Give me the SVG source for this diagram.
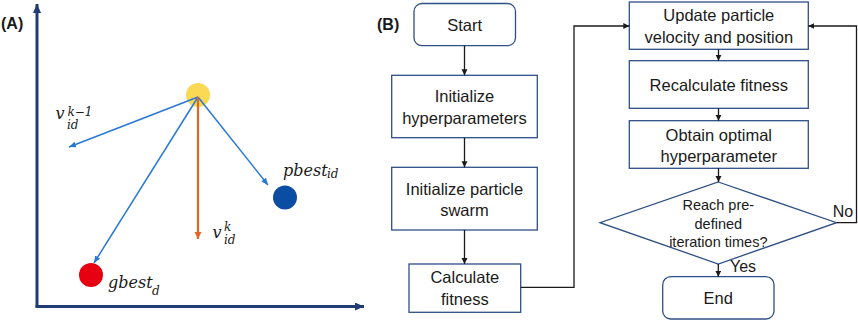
<svg xmlns="http://www.w3.org/2000/svg" width="858" height="322" viewBox="0 0 858 322">
<style>
.panel{font-family:"Liberation Sans",Arial,sans-serif;font-weight:bold;font-size:16px;fill:#1a1a1a}
.math{font-family:"DejaVu Serif",serif;font-style:italic;font-size:16px;fill:#1a1a1a}
.sm{font-size:12px}
.box{fill:#fff;stroke:#2f4f86;stroke-width:1.3}
.lbl{font-family:"Liberation Sans",Arial,sans-serif;font-size:16.5px;fill:#1a1a1a;text-anchor:middle}
.dlbl{font-family:"Liberation Sans",Arial,sans-serif;font-size:14.5px;fill:#1a1a1a;text-anchor:middle}
.conn{fill:none;stroke:#1a1a1a;stroke-width:1.3}
.axis{fill:none;stroke:#1f3c74;stroke-width:3}
.vb{fill:none;stroke:#2878d8;stroke-width:1.5}
.vo{fill:none;stroke:#ea6420;stroke-width:2.2}
</style>
<defs>
<marker id="ah" markerUnits="userSpaceOnUse" markerWidth="8" markerHeight="8" refX="6" refY="3" orient="auto"><path d="M0,0 L6,3 L0,6 z" fill="#1a1a1a"/></marker>
<marker id="ax" markerUnits="userSpaceOnUse" markerWidth="12" markerHeight="12" refX="9" refY="4" orient="auto"><path d="M0,0 L9,4 L0,8 z" fill="#1f3c74"/></marker>
<marker id="ab" markerUnits="userSpaceOnUse" markerWidth="10" markerHeight="10" refX="7" refY="3" orient="auto"><path d="M0,0 L7,3 L0,6 z" fill="#2878d8"/></marker>
<marker id="ao" markerUnits="userSpaceOnUse" markerWidth="10" markerHeight="10" refX="7" refY="3.5" orient="auto"><path d="M0,0 L7,3.5 L0,7 z" fill="#ea6420"/></marker>
</defs>
<rect width="858" height="322" fill="#fff"/>

<!-- Panel A -->
<g id="panelA">
<text class="panel" x="1" y="29">(A)</text>
<path class="axis" d="M37,306.5 V4" marker-end="url(#ax)"/>
<path class="axis" d="M35.5,306.5 H364" marker-end="url(#ax)"/>
</g>
<g id="particle"><circle cx="198" cy="95" r="12" fill="#fcd955"/></g>
<g id="pbest"><circle cx="285" cy="197.5" r="12" fill="#0a4da2"/>
<text class="math" x="283" y="176">pbest<tspan class="sm" x="327" y="178">id</tspan></text></g>
<g id="gbest"><circle cx="91" cy="275" r="12" fill="#e60012"/>
<text class="math" x="108" y="287.5">gbest<tspan class="sm" x="152" y="294.5">d</tspan></text></g>
<g id="vectors">
<path class="vb" d="M198,97 L69,147" marker-end="url(#ab)"/>
<path class="vb" d="M198,97 L94,263" marker-end="url(#ab)"/>
<path class="vb" d="M198,97 L268,185" marker-end="url(#ab)"/>
<path class="vo" d="M198,97 V239" marker-end="url(#ao)"/>
</g>
<g id="vkm1"><text class="math" x="55.5" y="119">v<tspan class="sm" x="67.5" y="116">k−1</tspan><tspan class="sm" x="67" y="128.5">id</tspan></text></g>
<g id="vk"><text class="math" x="212.5" y="238">v<tspan class="sm" x="224" y="230.5">k</tspan><tspan class="sm" x="224" y="243.5">id</tspan></text></g>

<!-- Panel B -->
<text class="panel" x="377" y="30">(B)</text>
<g id="start"><rect class="box" x="414" y="3.5" width="101.5" height="42.2" rx="8"/><text class="lbl" x="464.7" y="31">Start</text></g>
<g id="inithyper"><rect class="box" x="391.7" y="75.3" width="145.6" height="62.4"/><text class="lbl" x="464.5" y="102">Initialize</text><text class="lbl" x="464.5" y="123.5">hyperparameters</text></g>
<g id="initswarm"><rect class="box" x="391.7" y="167.3" width="145.6" height="62.7"/><text class="lbl" x="464.5" y="194.5">Initialize particle</text><text class="lbl" x="464.5" y="216">swarm</text></g>
<g id="calcfit"><rect class="box" x="409" y="264" width="111.7" height="48.3"/><text class="lbl" x="464.8" y="283">Calculate</text><text class="lbl" x="464.8" y="304.5">fitness</text></g>
<g id="update"><rect class="box" x="629.3" y="2" width="179" height="47.3"/><text class="lbl" x="718.8" y="21">Update particle</text><text class="lbl" x="718.8" y="42.5">velocity and position</text></g>
<g id="recalc"><rect class="box" x="629.3" y="60.7" width="179" height="47.6"/><text class="lbl" x="718.8" y="91">Recalculate fitness</text></g>
<g id="obtain"><rect class="box" x="629.3" y="120.7" width="179" height="47.6"/><text class="lbl" x="718.8" y="140.5">Obtain optimal</text><text class="lbl" x="718.8" y="162">hyperparameter</text></g>
<g id="decision"><path class="box" d="M718.3,182 L836.5,222.7 L718.3,264 L600,222.7 Z"/><text class="dlbl" x="718.3" y="210">Reach pre-</text><text class="dlbl" x="718.3" y="228.5">defined</text><text class="dlbl" x="718.3" y="246.5">iteration times?</text></g>
<g id="end"><rect class="box" x="662.7" y="276.7" width="111.3" height="42.3" rx="8"/><text class="lbl" x="718.3" y="303.5">End</text></g>

<g id="connectors">
<path class="conn" d="M464.5,45.7 V75.3" marker-end="url(#ah)"/>
<path class="conn" d="M464.5,137.7 V167.3" marker-end="url(#ah)"/>
<path class="conn" d="M464.5,230 V264" marker-end="url(#ah)"/>
<path class="conn" d="M520.7,287.3 H574 V26 H629.3" marker-end="url(#ah)"/>
<path class="conn" d="M718.5,49.3 V60.7" marker-end="url(#ah)"/>
<path class="conn" d="M718.5,108.3 V120.7" marker-end="url(#ah)"/>
<path class="conn" d="M718.5,168.3 V182" marker-end="url(#ah)"/>
<path class="conn" d="M718.3,264 V276.7" marker-end="url(#ah)"/>
<path class="conn" d="M836.5,222.7 H856.5 V26 H808.3" marker-end="url(#ah)"/>
<text class="dlbl" x="743" y="271.5" style="font-size:16px">Yes</text>
<text class="dlbl" x="843" y="217" style="font-size:16px">No</text>
</g>
</svg>
